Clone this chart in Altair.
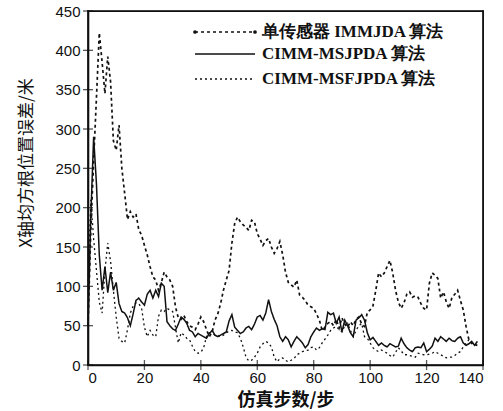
import altair as alt
import pandas as pd

# ---- data ----
steps = list(range(0, 139))

immjda = [50, 170, 260, 340, 422, 385, 345, 392, 360, 285, 273, 305, 250, 218, 185, 195, 188, 192, 172, 165,
          152, 140, 125, 112, 108, 95, 105, 118, 112, 108, 100, 74, 60, 58, 63, 55, 50, 48, 45, 52,
          61, 55, 45, 36, 42, 57, 65, 78, 95, 108, 120, 155, 180, 188, 182, 178, 175, 171, 184, 182,
          167, 160, 152, 158, 161, 150, 142, 148, 157, 140, 118, 105, 102, 99, 108, 89, 86, 82, 76, 74,
          72, 65, 57, 44, 48, 53, 55, 50, 58, 47, 60, 52, 48, 55, 50, 58, 61, 52, 49, 67,
          70, 75, 95, 117, 112, 117, 125, 133, 117, 95, 80, 72, 79, 90, 93, 86, 88, 86, 78, 72,
          70, 104, 117, 114, 110, 85, 93, 80, 72, 86, 90, 95, 82, 70, 49, 32, 28, 26, 25]

msjpda = [50, 190, 290, 230, 140, 95, 125, 92, 118, 95, 105, 78, 68, 66, 60, 50, 65, 82, 85, 80,
          76, 90, 95, 85, 95, 87, 104, 100, 55, 50, 46, 44, 52, 61, 58, 53, 44, 42, 36, 40,
          38, 36, 34, 40, 44, 38, 36, 38, 40, 42, 56, 64, 48, 44, 40, 42, 47, 49, 45, 52,
          61, 63, 57, 66, 83, 68, 58, 50, 36, 30, 36, 32, 23, 30, 36, 32, 28, 22, 26, 36,
          42, 47, 44, 46, 45, 67, 64, 66, 53, 61, 42, 57, 50, 41, 36, 57, 60, 64, 57, 41,
          32, 35, 30, 25, 28, 25, 23, 27, 25, 23, 24, 34, 27, 22, 19, 17, 22, 23, 22, 28,
          17, 20, 24, 34, 30, 36, 33, 30, 34, 31, 30, 34, 36, 28, 25, 27, 30, 25, 30]

msfjpda = [100, 210, 160, 120, 80, 66, 120, 155, 132, 95, 61, 34, 30, 28, 45, 66, 75, 79, 78, 72,
           48, 36, 44, 38, 36, 62, 70, 68, 72, 70, 68, 48, 28, 41, 38, 34, 32, 24, 17, 15,
           16, 22, 36, 41, 40, 38, 38, 36, 38, 41, 43, 44, 42, 41, 34, 23, 10, 5, 6, 10,
           15, 23, 27, 30, 28, 23, 10, 4, 8, 9, 6, 4, 6, 8, 13, 15, 17, 18, 19, 22,
           23, 19, 22, 28, 33, 38, 44, 47, 49, 45, 42, 50, 53, 44, 36, 44, 50, 53, 36, 34,
           28, 22, 19, 17, 19, 17, 15, 12, 10, 16, 22, 18, 13, 13, 12, 11, 10, 15, 14, 13,
           13, 14, 15, 17, 15, 13, 11, 9, 10, 10, 12, 15, 17, 23, 28, 32, 27, 25, 28]

series_names = ["单传感器 IMMJDA 算法", "CIMM-MSJPDA 算法", "CIMM-MSFJPDA 算法"]
x_ticks = [0, 20, 40, 60, 80, 100, 120, 140]
y_ticks = [0, 50, 100, 150, 200, 250, 300, 350, 400, 450]
y_title = "X轴均方根位置误差/米"
x_title = "仿真步数/步"

rows = []
for name, vals in zip(series_names, [immjda, msjpda, msfjpda]):
    for s, v in zip(steps, vals):
        rows.append({"step": s, "value": v, "series": name})
df = pd.DataFrame(rows)

dash_range = [[3, 3], [1, 0], [2, 3]]
width_range = [1.7, 1.3, 1.3]
INK = "#111111"

xscale = alt.Scale(domain=[0, 140], nice=False)
yscale = alt.Scale(domain=[0, 450], nice=False)

xaxis = alt.Axis(values=x_ticks, ticks=False, domain=True, domainColor=INK, domainWidth=1.6,
                 grid=False, labelOverlap=False,
                 labelFont="Liberation Sans", labelFontSize=15, labelColor=INK,
                 labelPadding=5,
                 title=x_title, titleFont="Noto Sans CJK SC", titleFontSize=18,
                 titleFontWeight="bold", titleColor=INK, titlePadding=6)
yaxis = alt.Axis(values=y_ticks, ticks=False, domain=True, domainColor=INK, domainWidth=1.6,
                 grid=False, labelOverlap=False,
                 labelFont="Liberation Sans", labelFontSize=15, labelColor=INK,
                 labelPadding=8, title=None)

lines = alt.Chart(df).mark_line(color=INK).encode(
    x=alt.X("step:Q", scale=xscale, axis=xaxis),
    y=alt.Y("value:Q", scale=yscale, axis=yaxis),
    strokeDash=alt.StrokeDash("series:N", scale=alt.Scale(domain=series_names, range=dash_range), legend=None),
    strokeWidth=alt.StrokeWidth("series:N", scale=alt.Scale(domain=series_names, range=width_range), legend=None),
    detail="series:N",
)

# frame drawn as thin filled bars
one_row = pd.DataFrame({"f": [0]})
frame_parts = [
    alt.Chart(one_row).mark_rect(fill=INK, strokeWidth=0).encode(
        x=alt.value(-0.8), x2=alt.value(395.8), y=alt.value(-0.8), y2=alt.value(0.8)),
    alt.Chart(one_row).mark_rect(fill=INK, strokeWidth=0).encode(
        x=alt.value(-0.8), x2=alt.value(395.8), y=alt.value(353.2), y2=alt.value(354.8)),
    alt.Chart(one_row).mark_rect(fill=INK, strokeWidth=0).encode(
        x=alt.value(-0.8), x2=alt.value(0.8), y=alt.value(-0.8), y2=alt.value(354.8)),
    alt.Chart(one_row).mark_rect(fill=INK, strokeWidth=0).encode(
        x=alt.value(394.2), x2=alt.value(395.8), y=alt.value(-0.8), y2=alt.value(354.8)),
]

# inward tick marks
xt = alt.Chart(pd.DataFrame({"t": x_ticks})).mark_tick(
    color=INK, thickness=1.3, size=10, orient="vertical").encode(
    x=alt.X("t:Q", scale=xscale, axis=xaxis), y=alt.value(354))
yt = alt.Chart(pd.DataFrame({"t": y_ticks})).mark_tick(
    color=INK, thickness=1.3, size=10, orient="horizontal").encode(
    y=alt.Y("t:Q", scale=yscale, axis=yaxis), x=alt.value(0))

# y axis title as text
ytitle = alt.Chart(pd.DataFrame({"label": [y_title]})).mark_text(
    angle=270, align="center", baseline="middle", font="Noto Sans CJK SC",
    fontSize=17, color=INK).encode(text="label:N", x=alt.value(-61), y=alt.value(152))

# manual legend
legend_layers = []
leg_y = [21, 43, 68]
for i, name in enumerate(series_names):
    one = pd.DataFrame({"label": [name]})
    legend_layers.append(
        alt.Chart(one).mark_rule(color=INK, strokeWidth=width_range[i], strokeDash=dash_range[i]).encode(
            x=alt.value(107), x2=alt.value(167), y=alt.value(leg_y[i])))
    legend_layers.append(
        alt.Chart(one).mark_text(align="left", baseline="middle", font="Liberation Serif",
                                 fontSize=17, fontWeight="bold", color=INK).encode(
            text="label:N", x=alt.value(174), y=alt.value(leg_y[i])))
for px in [107, 167]:
    legend_layers.append(
        alt.Chart(pd.DataFrame({"label": [series_names[0]]})).mark_point(
            filled=True, color=INK, size=14, shape="circle", opacity=1).encode(
            x=alt.value(px), y=alt.value(leg_y[0])))

chart = alt.layer(lines, *frame_parts, xt, yt, ytitle, *legend_layers).properties(
    width=395, height=354,
    background="white",
    autosize=alt.AutoSizeParams(type="none"),
    padding={"left": 88, "top": 11, "right": 20, "bottom": 46},
).configure_view(stroke=INK, strokeWidth=1.2)

chart.save("out.html", embed_options={"renderer": "svg", "actions": False})
